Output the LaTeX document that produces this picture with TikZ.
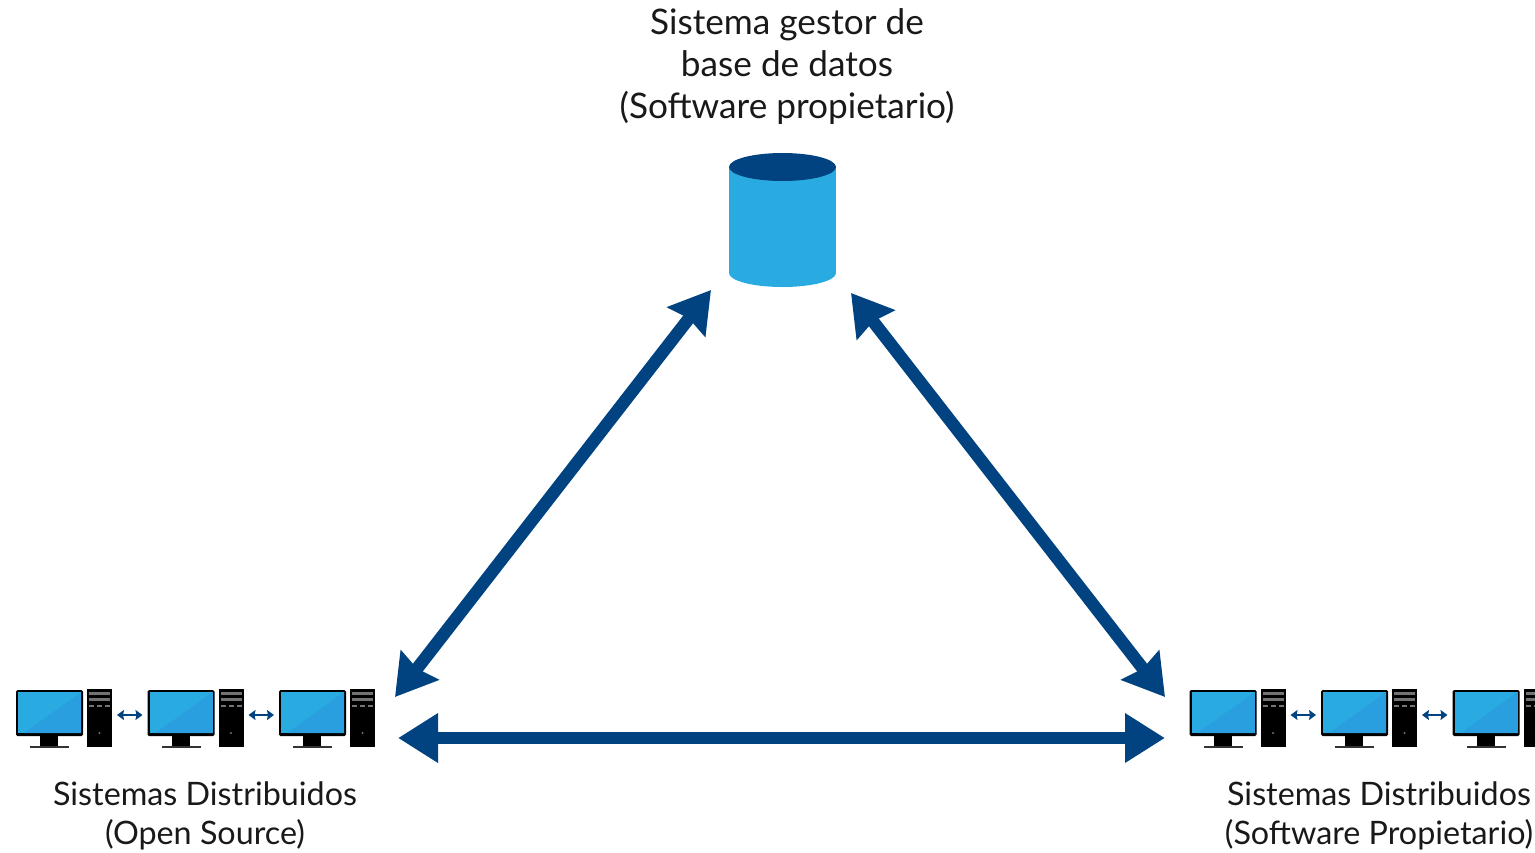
\documentclass[tikz,border=0pt]{standalone}
\usepackage{fontspec}
\setmainfont{Lato}
\usetikzlibrary{positioning}
\usetikzlibrary{arrows.meta}
\definecolor{navy}{HTML}{004380}
\definecolor{sky}{HTML}{29ABE2}
\definecolor{skyb}{HTML}{2A9FE0}
\tikzset{
  bigarrow/.style={draw=navy, line width=12.5pt, {Stealth[length=40pt,width=47pt,inset=#1]}-{Stealth[length=40pt,width=47pt,inset=#1]}},
  bigarrow/.default=4pt,
  smallarrow/.style={draw=navy, line width=2.5pt, {Stealth[length=7pt,width=10pt,inset=1pt]}-{Stealth[length=7pt,width=10pt,inset=1pt]}, shorten >=5pt, shorten <=5pt},
  labeltext/.style={align=center, font=\fontsize{32.3}{39}\selectfont, inner sep=0pt, text=black!90},
  pics/pc/.style={code={
    % monitor
    \fill[black, rounded corners=1.5pt] (0,0) rectangle (67,46);
    \fill[sky] (2,2) rectangle (65,43);
    \fill[skyb] (65,2) -- (65,43) -- (8,43) -- cycle;
    \fill[black] (24,46) rectangle (42,56);
    \fill[black!80] (14,55.5) rectangle (53,58);
    % tower
    \fill[black] (71,-1) rectangle (96,57);
    \fill[black!55] (73,2) rectangle (94,5);
    \fill[black!55] (73,8) rectangle (94,11);
    \foreach \x in {73,81,89}{\fill[black!55] (\x,15) rectangle +(5,1.5);}
    \fill[black!55] (83.5,43) circle (1.2pt);
    \coordinate (-w) at (0,25);
    \coordinate (-e) at (96,25);
  }}
}
\begin{document}
\begin{tikzpicture}[x=1pt,y=-1pt]
\path[use as bounding box,clip] (0,0) rectangle (1535,852);

% database
\node[minimum width=107pt, minimum height=134pt, inner sep=0pt] (db) at (782.5,220) {};
\fill[sky] (782.5,273) ellipse [x radius=53.5, y radius=14];
\fill[sky] (729,167) rectangle (836,273);
\fill[navy] (782.5,167) ellipse [x radius=53.5, y radius=14];
\node[labeltext, font=\fontsize{35.2}{42}\selectfont] (dblabel) at (787,67) {Sistema gestor de\\base de datos\\(Software propietario)};

% computers on the left
\foreach \i/\x in {1/16,2/147.5,3/279}{
  \pic (a\i) at (\x,690) {pc};
}
\draw[smallarrow] (a1-e) -- (a2-w);
\draw[smallarrow] (a2-e) -- (a3-w);
\node[labeltext] (alabel) at (205,816) {Sistemas Distribuidos\\(Open Source)};

% computers on the right
\foreach \i/\x in {1/1189.5,2/1321,3/1452.5}{
  \pic (b\i) at (\x,690) {pc};
}
\draw[smallarrow] (b1-e) -- (b2-w);
\draw[smallarrow] (b2-e) -- (b3-w);
\node[labeltext] (blabel) at (1379,816) {Sistemas Distribuidos\\(Software Propietario)};

\coordinate (dbl) at (711,290);
\coordinate (dbr) at (851,293);
\coordinate (al) at (395,697);
\coordinate (am) at (398,738);
\coordinate (bl) at (1165,697);
\coordinate (bm) at (1165,738);
\draw[bigarrow] (dbl) -- (al);
\draw[bigarrow] (dbr) -- (bl);
\draw[bigarrow=0pt] (am) -- (bm);
\end{tikzpicture}
\end{document}
